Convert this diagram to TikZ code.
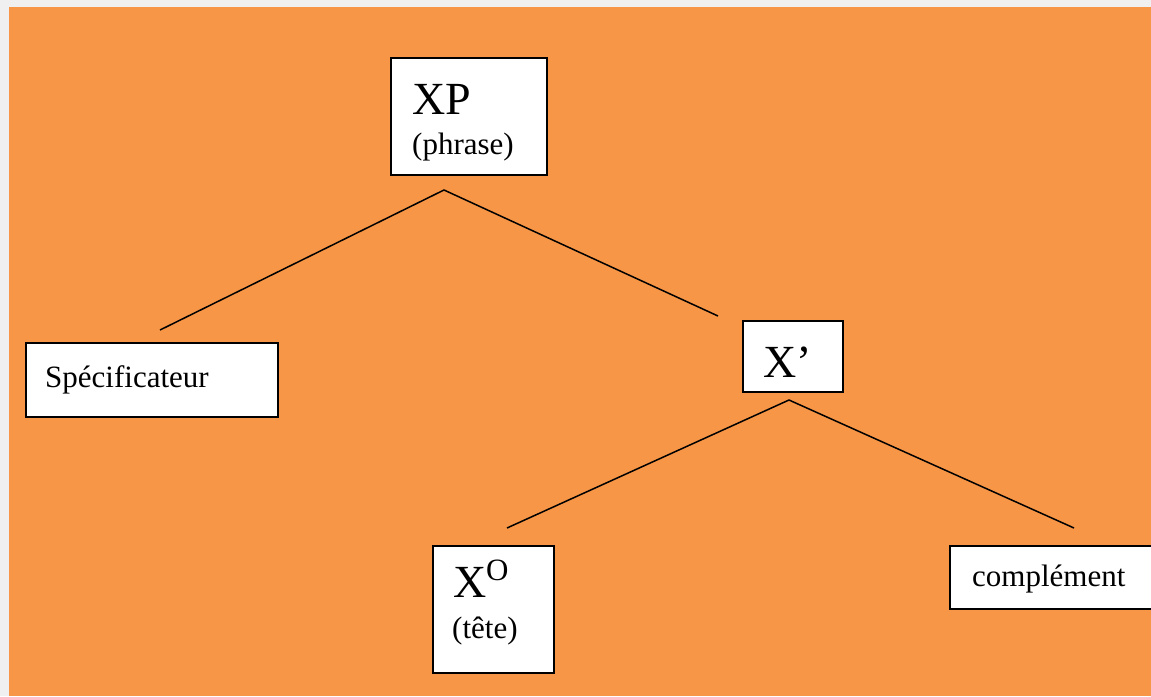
\documentclass[tikz,border=0pt]{standalone}
\usepackage{fontspec}
\setmainfont{Liberation Serif}
\definecolor{bggray}{HTML}{F0F0F0}
\definecolor{orng}{HTML}{F79646}
\begin{document}
\begin{tikzpicture}[x=1pt,y=-1pt,
  box/.style={draw=black, line width=2pt, fill=white, anchor=north west, inner sep=0pt},
  txt/.style={anchor=base west, inner sep=0pt},
  big/.style={font=\fontsize{46}{50}\selectfont},
  small/.style={font=\fontsize{31}{35}\selectfont},
  edge/.style={line width=1.5pt}]
\useasboundingbox (0,0) rectangle (1151,696);
\clip (0,0) rectangle (1151,696);
\fill[bggray] (0,0) rectangle (1151,696);
\fill[orng] (9,7) rectangle (1151,696);
% boxes
\node[box, minimum width=156pt, minimum height=117pt] (xp) at (390,57) {};
\node[box, minimum width=252pt, minimum height=74pt] (spec) at (25,342) {};
\node[box, minimum width=100pt, minimum height=71pt] (xbar) at (742,320) {};
\node[box, minimum width=121pt, minimum height=127pt] (xo) at (432,545) {};
\node[box, minimum width=215pt, minimum height=63pt] (comp) at (949,545) {};
% texts
\node[txt, big] (xpt) at (412,114) {XP};
\node[txt, small] (xpp) at (412,154) {(phrase)};
\node[txt, small] (spect) at (45,387) {Spécificateur};
\node[txt, big] (xbart) at (763,377) {X’};
\node[txt, big] (xot) at (453,597) {X};
\node[txt, small] (xos) at (486,580) {O};
\node[txt, small] (tete) at (452,638) {(tête)};
\node[txt, small] (compt) at (972,586) {complément};
% connector end points
\coordinate (a) at (444,190);
\coordinate (b) at (160,330);
\coordinate (c) at (718,316);
\coordinate (d) at (789,400);
\coordinate (e) at (507,528);
\coordinate (f) at (1074,528);
\draw[edge] (b) -- (a) -- (c);
\draw[edge] (e) -- (d) -- (f);
\end{tikzpicture}
\end{document}
